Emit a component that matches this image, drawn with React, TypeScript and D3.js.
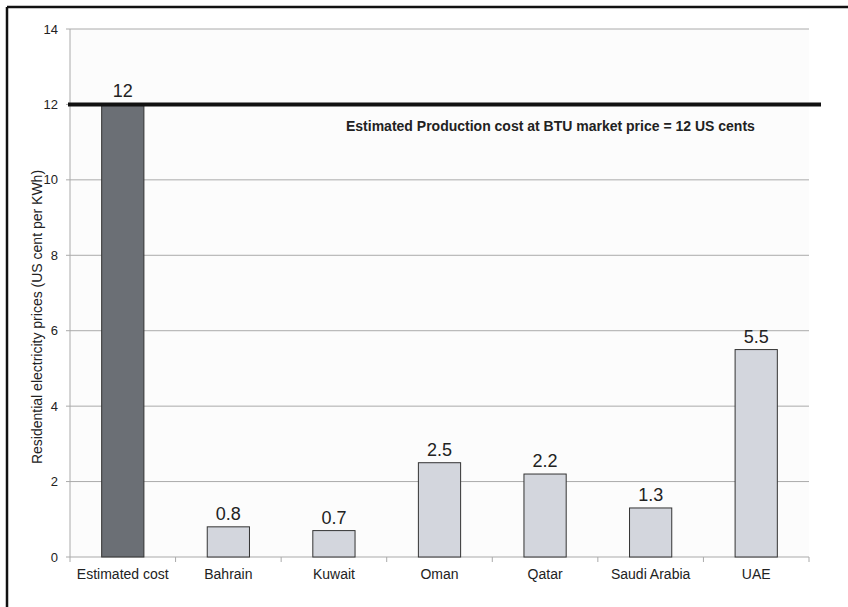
import React from "react";
import * as d3 from "d3";

const categories = ["Estimated cost", "Bahrain", "Kuwait", "Oman", "Qatar", "Saudi Arabia", "UAE"];
const prices = [12, 0.8, 0.7, 2.5, 2.2, 1.3, 5.5];
const yTicks = [0, 2, 4, 6, 8, 10, 12, 14];
const productionCost = 12;
const productionLabel = "Estimated Production cost at BTU market price = 12 US cents";
const yAxisTitle = "Residential electricity prices (US cent per KWh)";

const W = 848;
const H = 607;
const plot = { left: 70, right: 809, top: 29, bottom: 557 };
const font = "'Liberation Sans', Arial, sans-serif";

export default function App() {
  const x = d3
    .scaleBand<string>()
    .domain(categories)
    .range([plot.left, plot.right])
    .paddingInner(0.6)
    .paddingOuter(0.3);
  const band = d3.scaleBand<string>().domain(categories).range([plot.left, plot.right]);
  const y = d3.scaleLinear().domain([0, 14]).range([plot.bottom, plot.top]);

  return (
    <svg
      width={W}
      height={H}
      style={{ position: "absolute", left: 0, top: 0, background: "#fff" }}
    >
      {/* frame */}
      <line x1={7} y1={7} x2={W} y2={7} stroke="#111" strokeWidth={2.5} />
      <line x1={7} y1={7} x2={7} y2={H} stroke="#111" strokeWidth={2.5} />
      <rect x={plot.left} y={plot.top} width={plot.right - plot.left} height={plot.bottom - plot.top} fill="#fcfcfc" />

      {/* gridlines and y ticks */}
      {yTicks.map((t) => (
        <g key={t}>
          <line x1={plot.left - 4} x2={plot.right} y1={y(t)} y2={y(t)} stroke="#aaa" strokeWidth={1} />
          <text x={58} y={y(t)} dy="0.35em" textAnchor="end" fontFamily={font} fontSize={13} fill="#222">
            {t}
          </text>
        </g>
      ))}
      <line x1={plot.left} x2={plot.left} y1={plot.top} y2={plot.bottom} stroke="#aaa" />

      {/* x category ticks */}
      {categories.map((c) => (
        <line
          key={"t" + c}
          x1={band(c)!}
          x2={band(c)!}
          y1={plot.bottom}
          y2={plot.bottom + 5}
          stroke="#aaa"
        />
      ))}
      <line x1={plot.right} x2={plot.right} y1={plot.bottom} y2={plot.bottom + 5} stroke="#aaa" />

      {/* bars */}
      {categories.map((c, i) => (
        <g key={c}>
          <rect
            x={x(c)!}
            y={y(prices[i])}
            width={x.bandwidth()}
            height={y(0) - y(prices[i])}
            fill={i === 0 ? "#6b6f75" : "#d3d6dd"}
            stroke="#333"
            strokeWidth={1}
          />
          <text
            x={x(c)! + x.bandwidth() / 2}
            y={y(prices[i]) - 7}
            textAnchor="middle"
            fontFamily={font}
            fontSize={18}
            fill="#222"
          >
            {prices[i]}
          </text>
          <text
            x={band(c)! + band.bandwidth() / 2}
            y={579}
            textAnchor="middle"
            fontFamily={font}
            fontSize={14}
            fill="#222"
          >
            {c}
          </text>
        </g>
      ))}

      {/* production cost reference line */}
      <line x1={68} x2={821} y1={y(productionCost)} y2={y(productionCost)} stroke="#111" strokeWidth={4} />
      <text x={346} y={131} fontFamily={font} fontSize={14} fontWeight="bold" fill="#222">
        {productionLabel}
      </text>

      {/* y axis title */}
      <text
        transform={`translate(42, ${317}) rotate(-90)`}
        textAnchor="middle"
        fontFamily={font}
        fontSize={14}
        fill="#222"
      >
        {yAxisTitle}
      </text>
    </svg>
  );
}
